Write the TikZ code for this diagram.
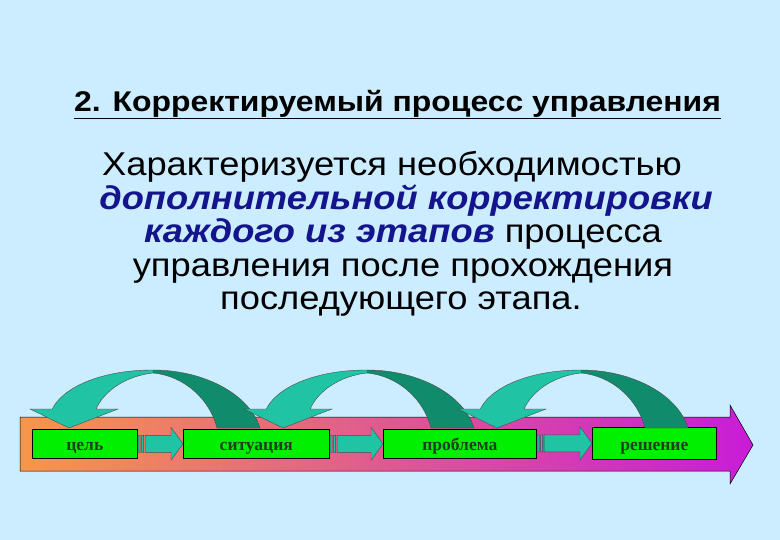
\documentclass[tikz,border=0pt]{standalone}
\usepackage{fontspec}
\setmainfont{Liberation Sans}
\newfontfamily\lblfont{Liberation Serif}
\usetikzlibrary{calc}
\definecolor{bgblue}{HTML}{CCECFF}
\definecolor{boxgreen}{HTML}{00F000}
\definecolor{lbltext}{HTML}{1E401E}
\definecolor{tealL}{HTML}{20C4A4}
\definecolor{tealD}{HTML}{108C6C}
\definecolor{navy}{HTML}{14148C}
\definecolor{orangeL}{HTML}{F7964A}
\definecolor{pinkM}{HTML}{E9719A}
\definecolor{magR}{HTML}{C81CD8}
\tikzset{
  stagebox/.style={draw=black, line width=0.6pt, fill=boxgreen, minimum height=29pt, inner sep=0pt,
     text height=14pt, text depth=0pt,
     font=\lblfont\bfseries\fontsize{17.5}{17.5}\selectfont, text=lbltext},
  tealfill/.style={fill=tealL, draw=black!70, line width=0.4pt},
  bodyline/.style={anchor=base, inner sep=0pt, font=\fontsize{33}{33}\selectfont},
}
\newcommand\wide[2]{\scalebox{#1}[1]{#2}}
\newcommand\stripedarrow[2]{%
  \path let \p1=(#1.east), \p2=(#2.west) in
    [tealfill] (\x1+0.5pt,\y2+8.5pt) rectangle (\x1+2.5pt,\y2-8.5pt)
    [tealfill] (\x1+4pt,\y2+8.5pt) rectangle (\x1+6pt,\y2-8.5pt)
    [tealfill] (\x1+7.5pt,\y2+8.5pt) -- (\x2-12pt,\y2+8.5pt) -- (\x2-12pt,\y2+16.5pt)
      -- (\x2,\y2) -- (\x2-12pt,\y2-16.5pt) -- (\x2-12pt,\y2-8.5pt) -- (\x1+7.5pt,\y2-8.5pt) -- cycle;
}
\newcommand\curvedback{%
  \fill[tealD, draw=black!70, line width=0.4pt] (153,370) .. controls (205,370) and (250,395) .. (260,428)
     -- (217,428) .. controls (210,400) and (185,376) .. (153,373) -- cycle;
  \fill[tealL, draw=black!70, line width=0.4pt] (52,409.5) .. controls (62,388) and (100,370) .. (153,370)
     -- (153,373) .. controls (125,376) and (103,392) .. (96,409.5) -- cycle;
  \fill[tealL, draw=black!70, line width=0.4pt] (30,409) -- (118,409) -- (69,428) -- cycle;
  \fill[tealL] (53,408) -- (95.5,408) -- (96,410.5) -- (52,410.5) -- cycle;
}
\begin{document}
\begin{tikzpicture}[x=1pt,y=-1pt]
\fill[bgblue] (0,0) rectangle (780,540);
\useasboundingbox (0,0) rectangle (780,540);

% title
\node[anchor=base, font=\bfseries\fontsize{28.5}{28.5}\selectfont, inner sep=0pt] (title) at (397.5,112)
  {\wide{1.12}{2. Корректируемый процесс управления}};
\draw[line width=1.4pt] (title.base west) ++(0,6.5) -- ($(title.base east)+(0,6.5)$);

% body text
\node[bodyline] (l1) at (392,176) {\wide{1.1}{Характеризуется необходимостью}};
\node[bodyline, text=navy, font=\fontsize{33}{33}\selectfont\bfseries\itshape] (l2) at (406,209.5)
  {\wide{1.1}{дополнительной корректировки}};
\node[bodyline] (l3) at (403,243) {\wide{1.1}{{\color{navy}\bfseries\itshape каждого из этапов} процесса}};
\node[bodyline] (l4) at (403,276.5) {\wide{1.1}{управления после прохождения}};
\node[bodyline] (l5) at (401,310) {\wide{1.1}{последующего этапа.}};

% big background arrow
\path[left color=orangeL, middle color=pinkM, right color=magR, draw=black, line width=0.5pt]
  (20,417) -- (730,417) -- (730,405) -- (753,445) -- (730,484) -- (730,471) -- (20,471) -- cycle;

% stage boxes
\node[stagebox, minimum width=105pt, anchor=north west] (c1) at (32,429) {цель};
\node[stagebox, minimum width=146pt, anchor=north west] (c2) at (183,429) {ситуация};
\node[stagebox, minimum width=153pt, anchor=north west] (c3) at (383,429) {проблема};
\node[stagebox, minimum width=124pt, minimum height=32pt, text height=15pt, anchor=north west] (c4) at (592,427) {решение};

% striped arrows
\stripedarrow{c1}{c2}
\stripedarrow{c2}{c3}
\stripedarrow{c3}{c4}

% curved return arrows
\curvedback
\begin{scope}[xshift=214pt]\curvedback\end{scope}
\begin{scope}[xshift=428pt]\curvedback\end{scope}
\end{tikzpicture}
\end{document}
